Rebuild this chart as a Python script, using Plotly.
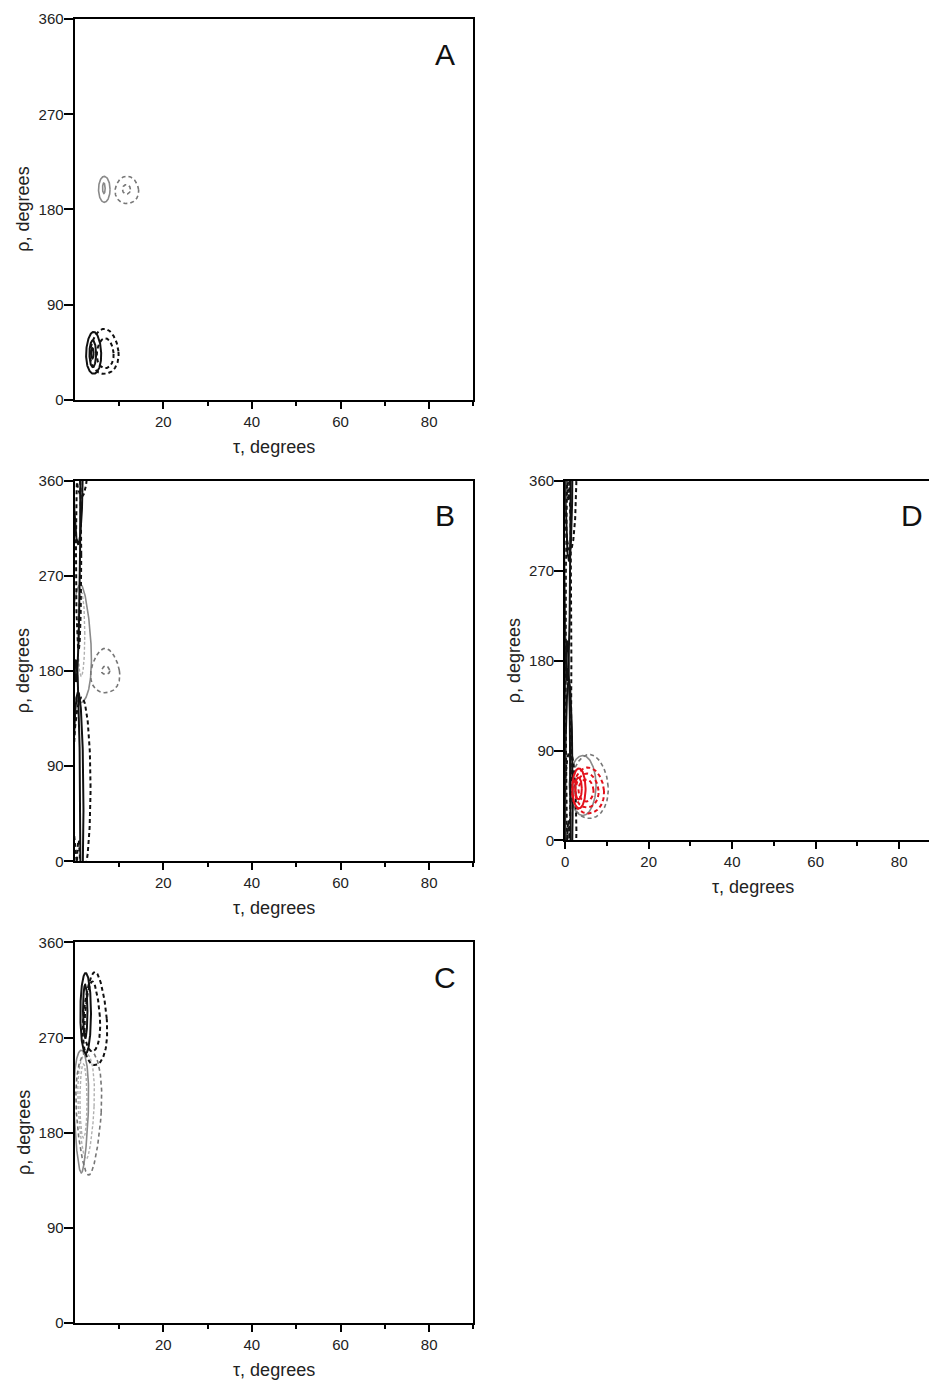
import numpy as np
import plotly.graph_objects as go

# ---------------- data (contour loops) ----------------
# Each loop: centre tau, centre rho, half-width in tau, half-height in rho, skew
A_tau  = [4.3, 4.1, 4.0, 6.7, 6.9, 6.7, 6.6, 11.8, 11.7]
A_rho  = [44.4, 43.5, 44.0, 45.8, 44.0, 199.0, 200.0, 198.5, 199.0]
A_wid  = [1.7, 0.75, 0.3, 3.2, 1.9, 1.3, 0.3, 2.65, 0.9]
A_hgt  = [19.8, 12.6, 5.0, 21.3, 14.2, 12.3, 5.0, 13.0, 4.5]
A_skew = [0.1, 0.0, 0.0, 0.15, 0.1, 0.0, 0.0, 0.1, 0.0]
A_kind = ["k", "k", "k", "kd", "kd", "g", "g", "gd", "gd"]

B_tau  = [0.3, 0.8, 1.6, 0.9, 1.3, 1.5, 6.9, 7.0]
B_rho  = [0.0, 50.0, 70.0, 290.0, 206.0, 215.0, 180.5, 181.0]
B_wid  = [1.0, 1.2, 2.0, 0.6, 2.4, 0.8, 3.2, 0.9]
B_hgt  = [190.0, 110.0, 85.0, 90.0, 56.0, 40.0, 21.0, 4.0]
B_skew = [0.0, 0.0, 0.0, 0.0, 0.3, 0.0, 0.25, 0.3]
B_kind = ["k", "k", "kd", "kd", "g", "lg", "gd", "gd"]

C_tau  = [2.5, 2.4, 4.6, 4.0, 1.5, 3.2, 2.6, 2.0]
C_rho  = [293.0, 295.0, 288.0, 290.0, 200.0, 199.0, 205.0, 210.0]
C_wid  = [1.2, 0.5, 2.65, 1.7, 1.6, 2.8, 1.8, 0.8]
C_hgt  = [38.0, 25.0, 44.0, 33.0, 58.0, 59.0, 50.0, 35.0]
C_skew = [0.0, 0.0, 0.3, 0.3, -0.3, -0.3, -0.3, 0.0]
C_kind = ["k", "k", "kd", "kd", "g", "gd", "lg", "lg"]

D_tau  = [0.5, 0.9, 1.2, 0.8, 4.2, 5.8, 3.3, 3.2, 5.5, 5.2, 5.0]
D_rho  = [0.0, 40.0, 10.0, 180.0, 55.0, 54.0, 52.0, 52.0, 50.0, 50.0, 50.0]
D_wid  = [0.8, 0.9, 1.5, 0.7, 3.2, 4.5, 1.6, 0.8, 3.8, 2.8, 1.8]
D_hgt  = [200.0, 120.0, 80.0, 200.0, 30.0, 32.0, 20.0, 11.0, 23.0, 17.0, 11.0]
D_skew = [0.0, 0.0, 0.0, 0.0, 0.0, 0.1, 0.0, 0.0, 0.1, 0.1, 0.0]
D_kind = ["k", "k", "kd", "kd", "g", "gd", "r", "r", "rd", "rd", "rd"]

panel_letters = ["A", "B", "C", "D"]
x_ticks = [20, 40, 60, 80]
x_ticks_D = [0, 20, 40, 60, 80]
x_minor = [10, 30, 50, 70, 90]
y_ticks = [0, 90, 180, 270, 360]

# ---------------- styles ----------------
STYLE = {
    "k":  dict(color="#111111", width=2.0, dash="solid"),
    "kd": dict(color="#111111", width=2.0, dash="4px,3px"),
    "g":  dict(color="#8a8a8a", width=1.6, dash="solid"),
    "gd": dict(color="#767676", width=1.6, dash="4px,3px"),
    "lg": dict(color="#b0b0b0", width=1.4, dash="3px,2px"),
    "r":  dict(color="#e3121c", width=2.0, dash="solid"),
    "rd": dict(color="#e3121c", width=2.0, dash="4px,3px"),
}
LAYER = {"lg": 0, "g": 1, "gd": 1, "k": 2, "kd": 2, "r": 3, "rd": 3}

# page layout: the figure sits inside the default 8px body margin, and the
# photographed page is slightly reduced; positions below are target pixels.
OFF = 8
S = 1382 / 1398
W, H = 932, 1390
def fx(v):
    return v / S - OFF
def fy(v):
    return v / S - OFF
def px(v):
    return min(1.0, max(0.0, fx(v) / W))
def py(v):
    return min(1.0, max(0.0, 1 - fy(v) / H))

# panel geometry in target pixels: (left, right, top, bottom, xmax)
GEOM = {
    "A": (78, 474, 18, 399, 90),
    "B": (78, 474, 480, 861, 90),
    "C": (78, 474, 942, 1323, 90),
    "D": (565, 929, 480, 840, (929 - 565) / 4.146),
}

fig = go.Figure()

def loop(cx, cy, rx, ry, k, n=240):
    t = np.linspace(0, 2 * np.pi, n)
    x = cx + rx * np.cos(t) * (1 - k * np.sin(t))
    y = cy + ry * np.sin(t)
    return x, y

panels = {
    "A": (A_tau, A_rho, A_wid, A_hgt, A_skew, A_kind),
    "B": (B_tau, B_rho, B_wid, B_hgt, B_skew, B_kind),
    "C": (C_tau, C_rho, C_wid, C_hgt, C_skew, C_kind),
    "D": (D_tau, D_rho, D_wid, D_hgt, D_skew, D_kind),
}

FONT = "Liberation Sans, Arial"
annotations = []
for i, name in enumerate(panel_letters):
    idx = "" if i == 0 else str(i + 1)
    xa, ya = "x" + idx, "y" + idx
    taus, rhos, wids, hgts, skews, kinds = panels[name]
    order = sorted(range(len(kinds)), key=lambda j: LAYER[kinds[j]])
    for j in order:
        x, y = loop(taus[j], rhos[j], wids[j], hgts[j], skews[j])
        for s in (-360, 0, 360):
            yy = y + s
            if yy.max() > 0 and yy.min() < 360:
                fig.add_trace(go.Scatter(x=x, y=yy, mode="lines", line=STYLE[kinds[j]],
                                         xaxis=xa, yaxis=ya, showlegend=False, hoverinfo="skip"))
    L, R, T, B, xmax = GEOM[name]
    ax_common = dict(showgrid=False, zeroline=False, showline=True, linecolor="black", linewidth=2,
                     ticks="outside", tickcolor="black", tickwidth=1.5,
                     tickfont=dict(family=FONT, size=15, color="#222"))
    fig.layout["xaxis" + idx] = dict(
        ax_common, domain=[px(L), px(R)], range=[0, xmax], anchor=ya,
        tickvals=x_ticks_D if name == "D" else x_ticks, ticklen=7, mirror=True,
        minor=dict(tickvals=x_minor, ticklen=4, ticks="outside", tickcolor="black", tickwidth=1.5),
    )
    fig.layout["yaxis" + idx] = dict(
        ax_common, domain=[py(B), py(T)], range=[0, 360], anchor=xa,
        tickvals=y_ticks, ticklen=9, ticklabelstandoff=-3, mirror=(name != "D"),
    )
    # axis titles
    xc = (L + R) / 2 if name != "D" else L + 45 * 4.146
    annotations.append(dict(text="τ, degrees", xref="paper", yref="paper",
                            x=px(xc), y=py(B + 47), showarrow=False, xanchor="center", yanchor="middle",
                            font=dict(family=FONT, size=18, color="#222")))
    annotations.append(dict(text="ρ, degrees", xref="paper", yref="paper",
                            x=px(L - 51), y=py((T + B) / 2), textangle=-90, showarrow=False,
                            xanchor="center", yanchor="middle",
                            font=dict(family=FONT, size=18, color="#222")))
    # panel letter
    lx = 446 if name != "D" else 909
    annotations.append(dict(text=name, xref="paper", yref="paper", x=px(lx), y=py(T + 35),
                            showarrow=False, xanchor="center", yanchor="middle",
                            font=dict(family=FONT, size=30, color="#111")))

fig.update_layout(
    width=W, height=H, autosize=False,
    margin=dict(l=0, r=0, t=0, b=0),
    paper_bgcolor="white", plot_bgcolor="white",
    annotations=annotations, showlegend=False,
)

fig.write_html("out.html")
